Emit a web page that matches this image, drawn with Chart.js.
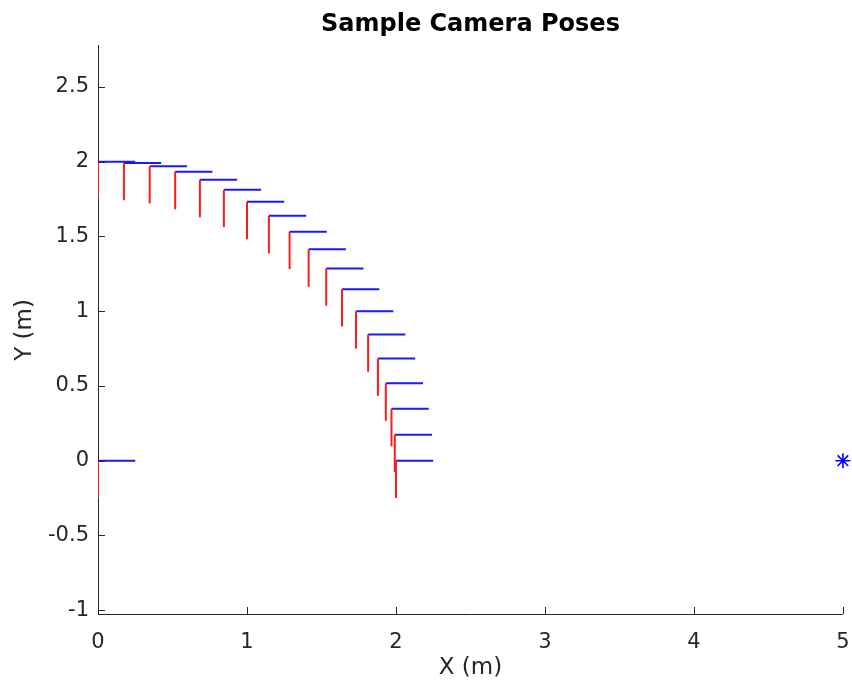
<!DOCTYPE html>
<html>
<head>
<meta charset="utf-8">
<script src="https://cdn.jsdelivr.net/npm/chart.js@4.4.1/dist/chart.umd.min.js"></script>
<style>
  html, body { margin: 0; padding: 0; background: #ffffff; }
  #wrap { width: 852px; height: 682px; }
</style>
</head>
<body>
<div id="wrap"><canvas id="chart" width="852" height="682"></canvas></div>
<script>
// Camera positions (metres): one at the origin, then a quarter arc from (0,2) to (2,0)
const camX = [0, 0, 0.174, 0.347, 0.518, 0.684, 0.845, 1.000, 1.147, 1.286, 1.414,
              1.532, 1.638, 1.732, 1.813, 1.879, 1.932, 1.970, 1.992, 2.000];
const camY = [0, 2.000, 1.992, 1.970, 1.932, 1.879, 1.813, 1.732, 1.638, 1.532, 1.414,
              1.286, 1.147, 1.000, 0.845, 0.684, 0.518, 0.347, 0.174, 0.000];
// Length of the drawn camera axes (metres)
const axisLen = 0.25;
// Target point
const targetX = [5];
const targetY = [0];
// Axis ticks
const xTicks = [0, 1, 2, 3, 4, 5];
const yTicks = [-1, -0.5, 0, 0.5, 1, 1.5, 2, 2.5];
const xRange = [0, 5];
const yRange = [-1.025, 2.775];

// Each camera draws a short X axis (blue, to the right) and Y axis (red, downward)
const xAxisSegs = [];
const yAxisSegs = [];
camX.forEach((x, i) => {
  const y = camY[i];
  xAxisSegs.push({ x: x, y: y }, { x: x + axisLen, y: y }, { x: x, y: null });
  yAxisSegs.push({ x: x, y: y }, { x: x, y: y - axisLen }, { x: x, y: null });
});

const FONT = "'DejaVu Sans', sans-serif";
const INK = '#262626';

// Inward-pointing tick marks on the left and bottom axes
const inwardTicks = {
  id: 'inwardTicks',
  afterDatasetsDraw(chart) {
    const { ctx, chartArea, scales } = chart;
    const len = 7;
    ctx.save();
    ctx.strokeStyle = INK;
    ctx.lineWidth = 1;
    ctx.beginPath();
    scales.x.ticks.forEach(t => {
      const px = Math.round(scales.x.getPixelForValue(t.value)) + 0.5;
      ctx.moveTo(px, chartArea.bottom);
      ctx.lineTo(px, chartArea.bottom - len);
    });
    scales.y.ticks.forEach(t => {
      const py = Math.round(scales.y.getPixelForValue(t.value)) + 0.5;
      ctx.moveTo(chartArea.left, py);
      ctx.lineTo(chartArea.left + len, py);
    });
    ctx.stroke();
    ctx.restore();
  }
};

new Chart(document.getElementById('chart'), {
  type: 'scatter',
  data: {
    datasets: [
      {
        label: 'camera Y axis',
        data: yAxisSegs,
        showLine: true,
        spanGaps: false,
        borderColor: '#ff1a1a',
        borderWidth: 2,
        pointRadius: 0,
        pointHoverRadius: 0
      },
      {
        label: 'camera X axis',
        data: xAxisSegs,
        showLine: true,
        spanGaps: false,
        borderColor: '#1a1aff',
        borderWidth: 2,
        pointRadius: 0,
        pointHoverRadius: 0
      },
      {
        label: 'target',
        data: targetX.map((x, i) => ({ x: x, y: targetY[i] })),
        showLine: false,
        pointStyle: 'star',
        pointRadius: 7.5,
        pointBorderColor: '#0000ff',
        pointBackgroundColor: '#0000ff',
        pointBorderWidth: 1.6,
        clip: false
      }
    ]
  },
  options: {
    responsive: false,
    animation: false,
    devicePixelRatio: 1,
    layout: { padding: { left: 0, right: 0, top: 0, bottom: 0 } },
    plugins: {
      legend: { display: false },
      tooltip: { enabled: false },
      title: {
        display: true,
        fullSize: false,
        text: 'Sample Camera Poses',
        color: '#000000',
        font: { family: FONT, size: 24, weight: 'bold' },
        padding: { top: 10, bottom: 7 }
      }
    },
    scales: {
      x: {
        type: 'linear',
        min: xRange[0],
        max: xRange[1],
        afterBuildTicks: s => { s.ticks = xTicks.map(v => ({ value: v })); },
        afterFit: s => { s.height = 68; s.paddingLeft = 0; s.paddingRight = 3; },
        grid: { display: false },
        border: { display: true, color: INK, width: 1 },
        ticks: {
          color: INK,
          font: { family: FONT, size: 21 },
          padding: 8,
          maxRotation: 0,
          callback: v => String(v)
        },
        title: {
          display: true,
          text: 'X (m)',
          color: INK,
          font: { family: FONT, size: 23 },
          padding: { top: 0, bottom: 0 }
        }
      },
      y: {
        type: 'linear',
        min: yRange[0],
        max: yRange[1],
        afterBuildTicks: s => { s.ticks = yTicks.map(v => ({ value: v })); },
        afterFit: s => { s.width = 98; s.paddingTop = 0; s.paddingBottom = 0; },
        grid: { display: false },
        border: { display: true, color: INK, width: 1 },
        ticks: {
          color: INK,
          font: { family: FONT, size: 21 },
          padding: 1,
          callback: v => String(v)
        },
        title: {
          display: true,
          text: 'Y (m)',
          color: INK,
          font: { family: FONT, size: 23 },
          padding: { top: 11, bottom: 0 }
        }
      }
    }
  },
  plugins: [inwardTicks]
});
</script>
</body>
</html>
